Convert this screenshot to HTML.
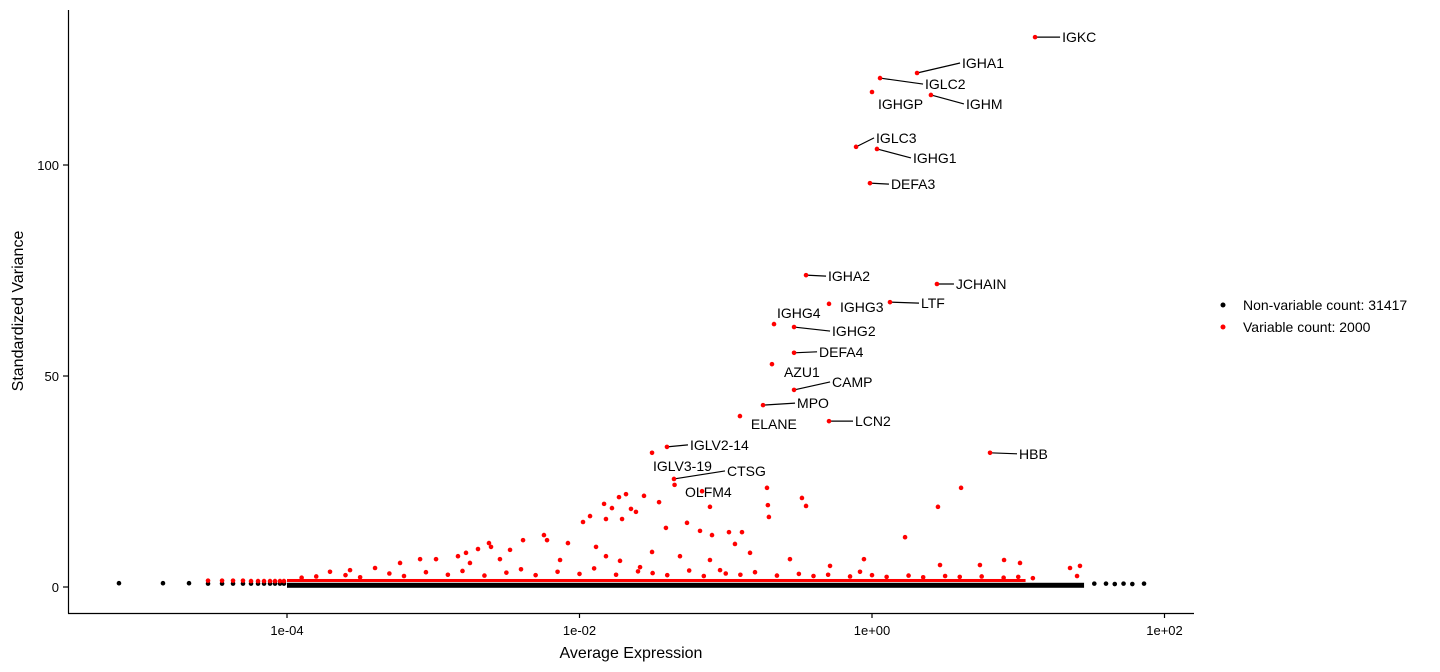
<!DOCTYPE html>
<html><head><meta charset="utf-8"><style>
html,body{margin:0;padding:0;background:#fff}
svg{display:block;font-family:"Liberation Sans",sans-serif}
</style></head><body>
<svg id="chart" width="1440" height="672">
<g id="marks"></g>
<g id="axes"></g>
</svg>
<script>
// ---- data (x in log10 average expression, y standardized variance) ----
const labeledGenes = ["IGKC","IGHA1","IGLC2","IGHGP","IGHM","IGLC3","IGHG1","DEFA3","IGHA2","JCHAIN","IGHG3","LTF","IGHG4","IGHG2","DEFA4","AZU1","CAMP","MPO","ELANE","LCN2","HBB","IGLV2-14","IGLV3-19","CTSG","OLFM4"];
const labeledLogX = [1.115,0.308,0.055,0.0,0.403,-0.109,0.034,-0.014,-0.451,0.444,-0.294,0.123,-0.670,-0.533,-0.533,-0.684,-0.533,-0.745,-0.903,-0.294,0.807,-1.402,-1.504,-1.354,-1.162];
const labeledVar = [130.3,121.8,120.6,117.3,116.6,104.3,103.8,95.7,73.9,71.8,67.1,67.5,62.3,61.6,55.5,52.8,46.7,43.1,40.5,39.3,31.8,33.2,31.8,25.6,22.7];
const redLogX = [-1.682,-1.730,-1.559,-1.832,-1.778,-1.648,-1.614,-1.976,-1.928,-1.819,-1.709,-1.456,-1.409,-1.265,-1.108,-0.718,-0.712,-0.705,-0.479,-0.451,-0.055,0.226,0.451,0.609,-1.176,-0.978,-0.889,-0.937,-1.094,-2.243,-2.386,-2.222,-2.079,-1.887,-2.619,-2.605,-2.475,-2.694,-2.776,-2.831,-2.981,-2.544,-1.504,-1.819,-1.313,-0.834,-0.561,1.354,1.422,1.402,0.903,1.012,0.738,-3.227,-3.090,-3.398,-3.569,-3.706,-2.749,-2.133,-1.723,-1.108,-0.287,0.465,-0.082,-1.039,-1.586,-1.350];
const redVar = [22.0,21.3,21.6,19.7,18.7,18.5,17.8,15.4,16.8,16.1,16.1,20.1,14.0,15.2,19.0,23.5,19.4,16.6,21.1,19.2,6.6,11.8,19.0,23.5,13.3,13.0,13.0,10.2,12.3,12.3,11.1,11.1,10.4,9.5,10.4,9.5,8.8,9.0,8.1,7.3,6.6,6.6,8.3,7.3,7.3,8.1,6.6,4.5,5.0,2.6,6.4,5.7,5.2,5.7,6.6,4.5,4.0,3.6,5.7,6.4,6.2,6.4,5.0,5.2,3.6,4.0,4.7,24.2];
const redLowLogX = [-3.9,-3.8,-3.6,-3.5,-3.3,-3.2,-3.05,-2.9,-2.8,-2.65,-2.5,-2.4,-2.3,-2.15,-2.0,-1.9,-1.75,-1.6,-1.5,-1.4,-1.25,-1.15,-1.0,-0.9,-0.8,-0.65,-0.5,-0.4,-0.3,-0.15,0.0,0.1,0.25,0.35,0.5,0.6,0.75,0.9,1.0,1.1];
const redLowVar = [2.2,2.5,2.8,2.3,3.2,2.6,3.5,2.9,3.8,2.7,3.4,4.2,2.8,3.6,3.1,4.4,2.9,3.7,3.3,2.8,3.9,2.6,3.2,2.9,3.5,2.7,3.1,2.6,2.9,2.5,2.8,2.4,2.7,2.3,2.6,2.4,2.5,2.2,2.4,2.1];
const blackLeftLogX = [-5.149,-4.848,-4.670,-4.540,-4.444,-4.369,-4.301,-4.246,-4.198,-4.157,-4.116,-4.082,-4.048,-4.021,1.52,1.60,1.66,1.72,1.78,1.86];
const blackLeftVar = [0.9,0.9,0.9,0.8,0.8,0.8,0.8,0.8,0.8,0.8,0.8,0.8,0.8,0.8,0.8,0.8,0.7,0.8,0.7,0.8];
const redLeftLogX = [-4.540,-4.444,-4.369,-4.301,-4.246,-4.198,-4.157,-4.116,-4.082,-4.048,-4.021];
const redLeftVar = [1.5,1.5,1.5,1.5,1.4,1.4,1.4,1.4,1.4,1.4,1.4];
const blackBand = [-4.0, 1.45];
const redBand = [-4.0, 1.05];
const xTickLabels = ["1e-04","1e-02","1e+00","1e+02"];
const xTickValues = [-4,-2,0,2];
const yTickValues = [0,50,100];
const legendLabels = ["Non-variable count: 31417","Variable count: 2000"];
// label offsets (layout, px)
const labelDx = [27,45,45,6,35,20,36,21,22,19,11,31,3,38,25,12,38,34,11,26,29,23,1,53,-17];
const labelDy = [0,-10,6,12,9,-9,9,1,1,0,3,1,-11,4,-1,8,-8,-2,8,0,1,-2,13,-8,1];

// ---- scales ----
const X0=872, PXDEC=146.25, Y0=587, PXU=4.22;
const sx = v => X0 + v*PXDEC;
const sy = v => Y0 - v*PXU;
const NS="http://www.w3.org/2000/svg";
const marks=document.getElementById('marks'), axes=document.getElementById('axes');
function mk(tag, attrs, parent){const e=document.createElementNS(NS,tag);for(const k in attrs)e.setAttribute(k,attrs[k]);parent.appendChild(e);return e;}

// bands
let b=mk('rect',{x:sx(blackBand[0]),y:sy(1.0),width:sx(blackBand[1])-sx(blackBand[0]),height:5,fill:'#000'},marks);


let rb=mk('rect',{x:sx(redBand[0]),y:sy(1.9),width:sx(redBand[1])-sx(redBand[0]),height:3,fill:'#f00'},marks);



blackLeftLogX.forEach((v,i)=>{const c=mk('circle',{cx:sx(v),cy:sy(blackLeftVar[i]),r:2.3,fill:'#000'},marks);

});
redLeftLogX.forEach((v,i)=>{const c=mk('circle',{cx:sx(v),cy:sy(redLeftVar[i]),r:2.3,fill:'#f00'},marks);

});
redLowLogX.forEach((v,i)=>{const c=mk('circle',{cx:sx(v),cy:sy(redLowVar[i]),r:2.3,fill:'#f00'},marks);

});
redLogX.forEach((v,i)=>{const c=mk('circle',{cx:sx(v),cy:sy(redVar[i]),r:2.3,fill:'#f00'},marks);

});

labeledGenes.forEach((g,i)=>{
  const px=sx(labeledLogX[i]), py=sy(labeledVar[i]);
  const tx=px+labelDx[i], ty=py+labelDy[i];
  if(labelDx[i]>=18){
    const l=mk('line',{x1:px,y1:py,x2:tx-2,y2:ty,stroke:'#000','stroke-width':1.2},marks);
    
    
  }
  const c=mk('circle',{cx:px,cy:py,r:2.3,fill:'#f00'},marks);
  
  
  const t=mk('text',{x:tx,y:ty+5,'font-size':14,fill:'#000'},marks);
  t.textContent=g;
  
  
});

// axes
let a=mk('line',{x1:68.5,y1:10,x2:68.5,y2:613.5,stroke:'#000','stroke-width':1.2},axes);


a=mk('line',{x1:68,y1:613.5,x2:1194,y2:613.5,stroke:'#000','stroke-width':1.2},axes);


xTickValues.forEach((v,i)=>{
  const x=sx(v);
  const tk=mk('line',{x1:x,y1:613,x2:x,y2:618,stroke:'#000','stroke-width':1.2},axes);
  
  
  const t=mk('text',{x:x,y:635,'font-size':13,'text-anchor':'middle',fill:'#000'},axes);
  t.textContent=xTickLabels[i];
  
  
});
yTickValues.forEach(v=>{
  const y=sy(v);
  const tk=mk('line',{x1:63,y1:y,x2:68,y2:y,stroke:'#000','stroke-width':1.2},axes);
  
  
  const t=mk('text',{x:59,y:y+5,'font-size':13,'text-anchor':'end',fill:'#000'},axes);
  t.textContent=String(v);
  
  
});
let xt=mk('text',{x:631,y:658,'font-size':16,'text-anchor':'middle',fill:'#000'},axes);
xt.textContent='Average Expression';


let yt=mk('text',{x:23,y:311,'font-size':16,'text-anchor':'middle',fill:'#000',transform:'rotate(-90 23 311)'},axes);
yt.textContent='Standardized Variance';



const legCols=['#000','#f00'];
legendLabels.forEach((s,i)=>{
  const y=305+i*22;
  const c=mk('circle',{cx:1223,cy:y,r:2.5,fill:legCols[i]},axes);
  
  
  const t=mk('text',{x:1243,y:y+5,'font-size':14,fill:'#000'},axes);
  t.textContent=s;
  
  
});
</script>
</body></html>
